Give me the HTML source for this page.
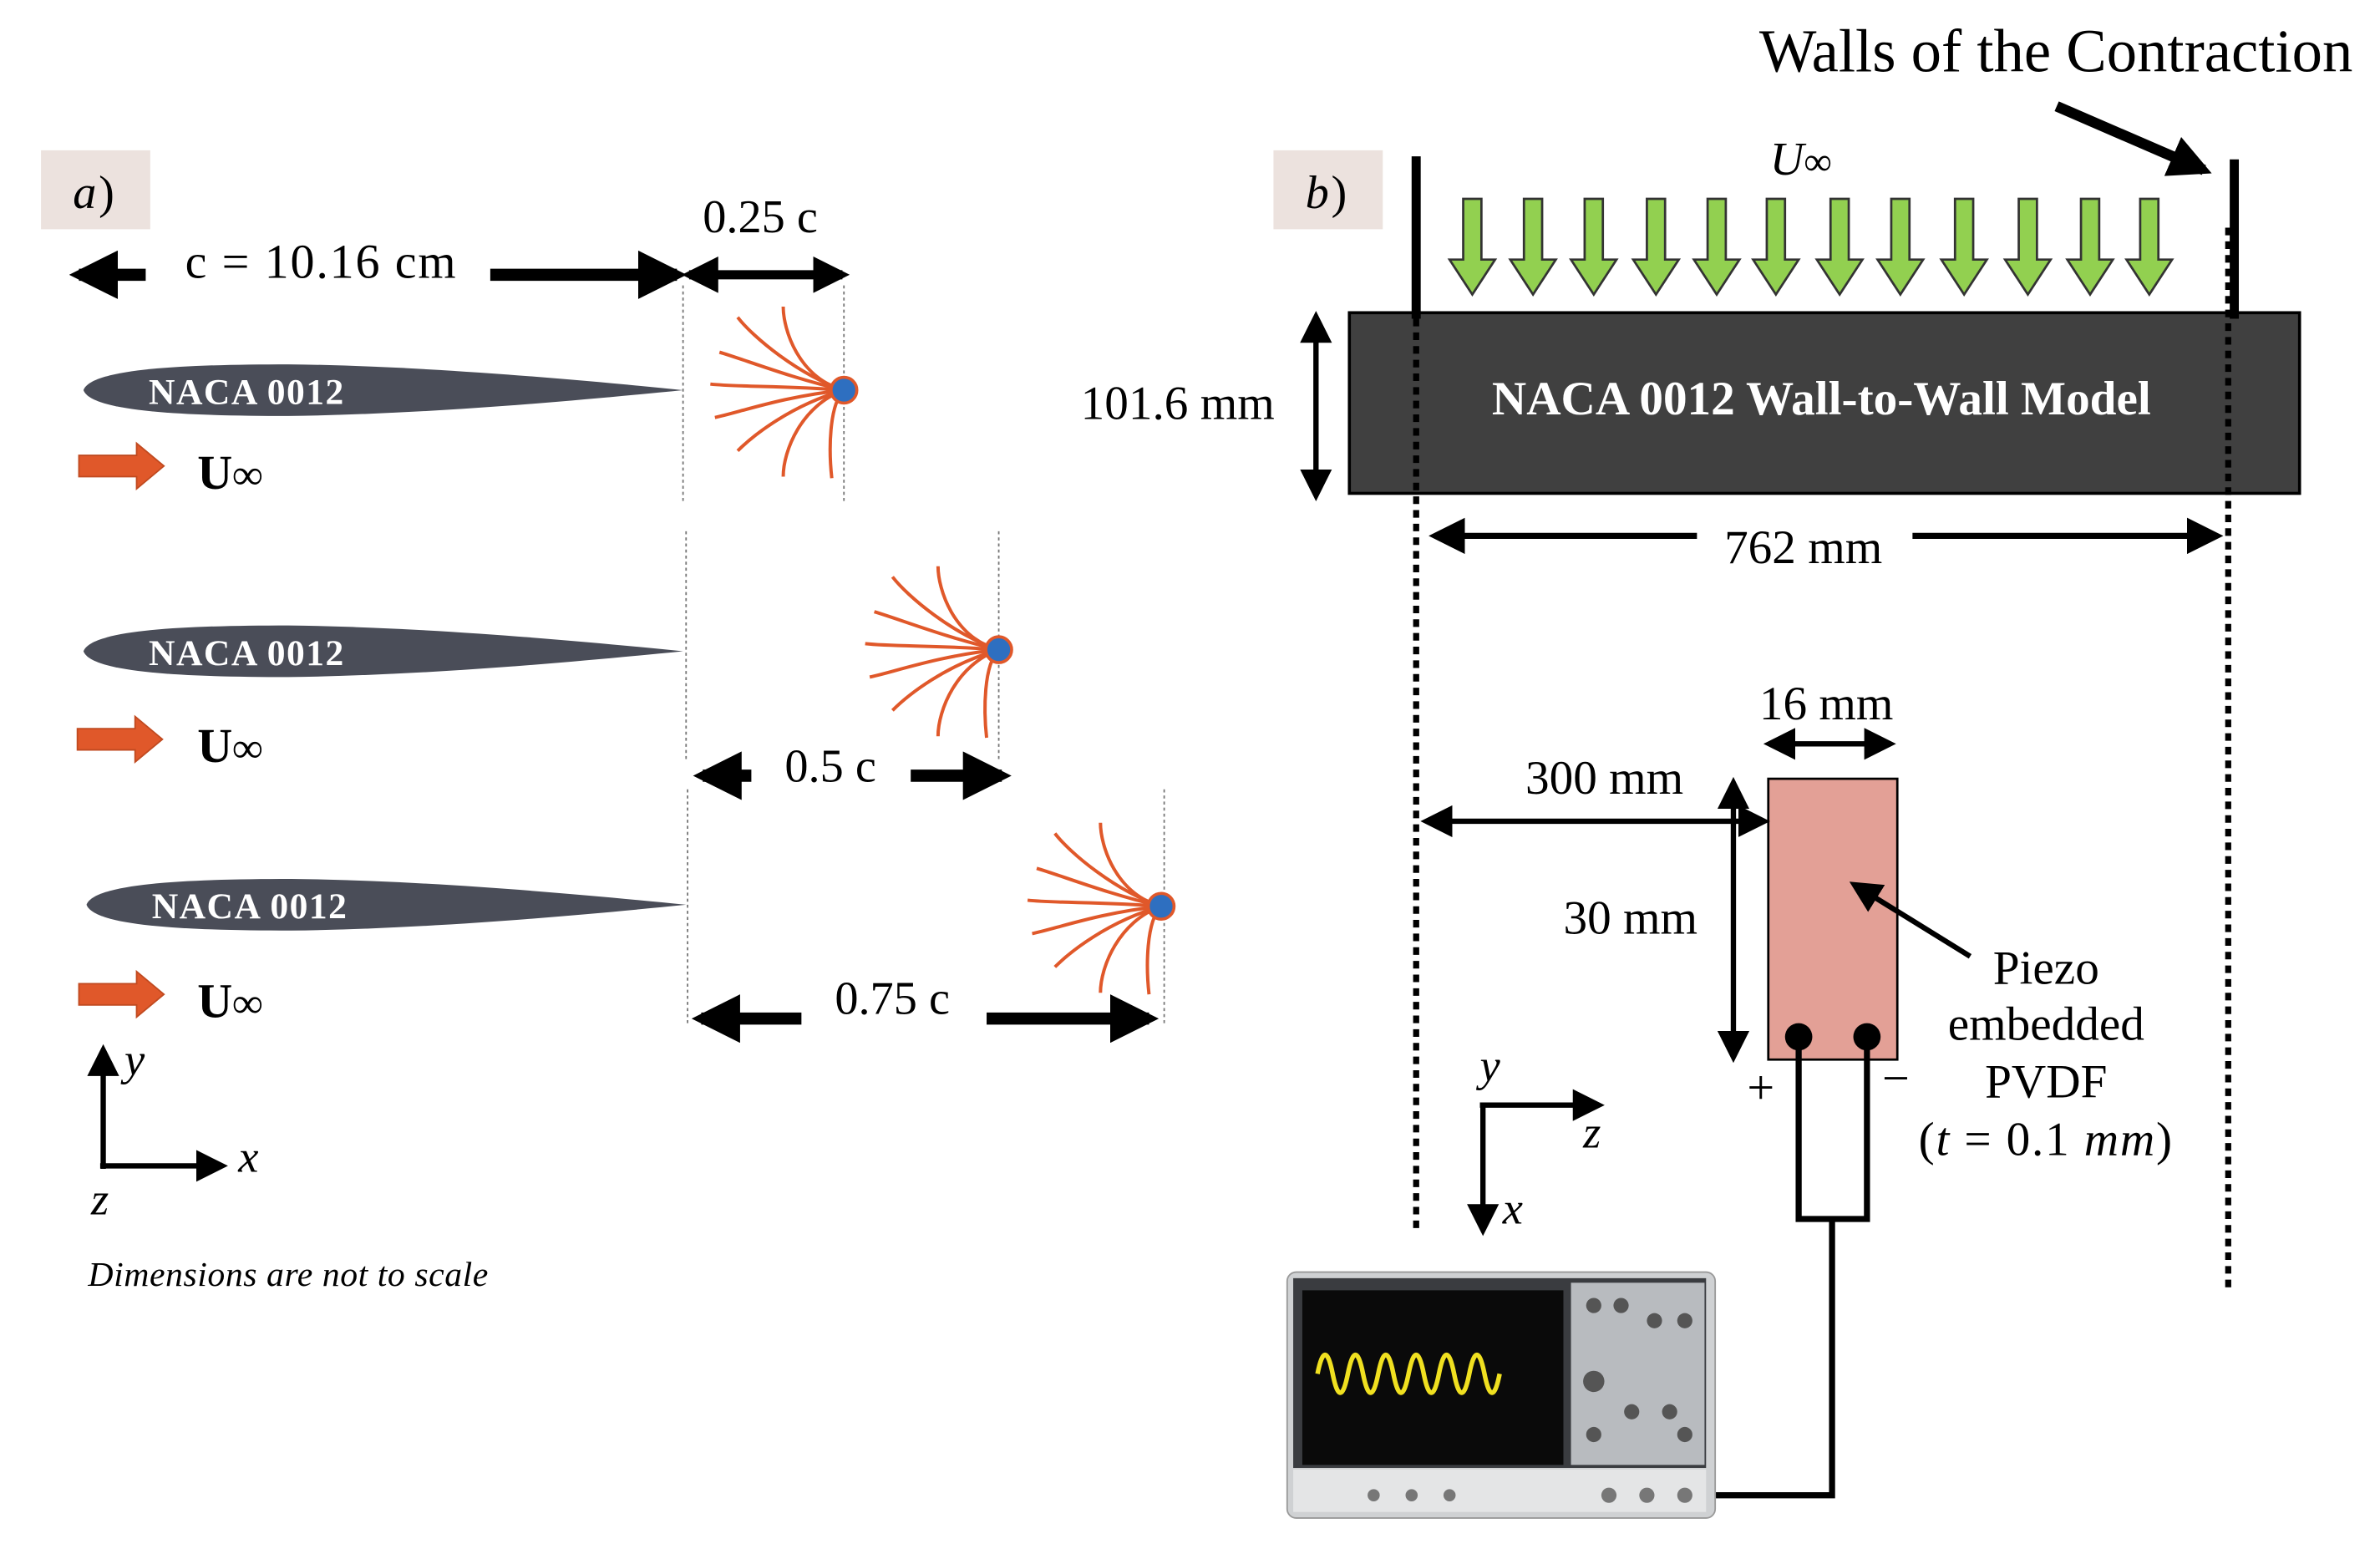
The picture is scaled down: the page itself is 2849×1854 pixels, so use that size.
<!DOCTYPE html>
<html><head><meta charset="utf-8"><style>
html,body{margin:0;padding:0;background:#fff;}
svg{display:block;}
text{font-family:"Liberation Serif",serif;}
</style></head><body>
<svg width="2849" height="1854" viewBox="0 0 1568 1020.4" preserveAspectRatio="none" xmlns="http://www.w3.org/2000/svg">
<defs>
<marker id="ah" viewBox="0 0 10 10" refX="8" refY="5" markerWidth="4" markerHeight="4" orient="auto-start-reverse"><path d="M0,0 L10,5 L0,10 z" fill="#000"/></marker>
<marker id="as" viewBox="0 0 10 10" refX="8" refY="5" markerWidth="6" markerHeight="6" orient="auto-start-reverse"><path d="M0,0 L10,5 L0,10 z" fill="#000"/></marker>
<g id="foil"><path d="M55,0 C60,-14 120,-17 190,-17 C280,-16 380,-7 450,0 C380,7 280,16 190,17 C120,17 60,14 55,0 z" fill="#4a4d58"/></g>
<g id="fan" fill="none" stroke="#e0582a" stroke-width="2.2">
<path d="M0,0 C-30,-8 -40,-40 -40,-55"/><path d="M0,0 C-30,-10 -60,-35 -70,-48"/><path d="M0,0 C-35,-8 -65,-20 -82,-25"/><path d="M0,0 C-40,-3 -70,-2 -88,-4"/><path d="M0,0 C-40,4 -70,15 -85,18"/><path d="M0,0 C-35,10 -60,30 -70,40"/><path d="M0,0 C-28,10 -40,40 -40,57"/><path d="M0,0 C-10,10 -10,40 -8,58"/>
<circle r="8.5" fill="#2e6fc0" stroke="#e0582a" stroke-width="2"/></g>
<g id="oar"><path d="M0,-7 L38,-7 L38,-15 L56,0 L38,15 L38,7 L0,7 z" fill="#e0582a" stroke="#c04a20" stroke-width="1"/></g>
<g id="gar"><path d="M-6,0 L6,0 L6,40 L15,40 L0,63 L-15,40 L-6,40 z" fill="#92d050" stroke="#333" stroke-width="1.5"/></g>
</defs>

<!-- Panel a -->
<rect x="27" y="99" width="72" height="52" fill="#ece2de"/>
<text x="48" y="137" font-size="31" font-style="italic">a</text><text x="65" y="137" font-size="31">)</text>
<line x1="96" y1="181" x2="52" y2="181" stroke="#000" stroke-width="8" marker-end="url(#ah)"/>
<text x="122" y="183" font-size="32" letter-spacing="1">c = 10.16 cm</text>
<line x1="323" y1="181" x2="446" y2="181" stroke="#000" stroke-width="8" marker-end="url(#ah)"/>
<line x1="454" y1="181" x2="555" y2="181" stroke="#000" stroke-width="6" marker-start="url(#ah)" marker-end="url(#ah)"/>
<text x="463" y="153" font-size="31">0.25 c</text>

<g stroke="#777" stroke-width="1" stroke-dasharray="2 2">
<line x1="450" y1="188" x2="450" y2="330"/><line x1="556" y1="188" x2="556" y2="332"/>
<line x1="452" y1="350" x2="452" y2="500"/><line x1="658" y1="350" x2="658" y2="500"/>
<line x1="453" y1="520" x2="453" y2="675"/><line x1="767" y1="520" x2="767" y2="675"/>
</g>

<use href="#foil" y="257"/>
<text x="98" y="266" font-size="24" font-weight="bold" fill="#fff" letter-spacing="0.8">NACA 0012</text>
<use href="#fan" x="556" y="257"/>
<use href="#oar" x="52" y="307"/>
<text x="130" y="322" font-size="32" font-weight="bold">U<tspan font-size="28">∞</tspan></text>

<use href="#foil" y="429"/>
<text x="98" y="438" font-size="24" font-weight="bold" fill="#fff" letter-spacing="0.8">NACA 0012</text>
<use href="#fan" x="658" y="428"/>
<use href="#oar" x="51" y="487"/>
<text x="130" y="502" font-size="32" font-weight="bold">U<tspan font-size="28">∞</tspan></text>
<line x1="495" y1="511" x2="463" y2="511" stroke="#000" stroke-width="8" marker-end="url(#ah)"/>
<text x="517" y="515" font-size="31">0.5 c</text>
<line x1="600" y1="511" x2="660" y2="511" stroke="#000" stroke-width="8" marker-end="url(#ah)"/>

<use href="#foil" x="2" y="596"/>
<text x="100" y="605" font-size="24" font-weight="bold" fill="#fff" letter-spacing="0.8">NACA 0012</text>
<use href="#fan" x="765" y="597"/>
<use href="#oar" x="52" y="655"/>
<text x="130" y="670" font-size="32" font-weight="bold">U<tspan font-size="28">∞</tspan></text>
<line x1="528" y1="671" x2="462" y2="671" stroke="#000" stroke-width="8" marker-end="url(#ah)"/>
<text x="550" y="668" font-size="31">0.75 c</text>
<line x1="650" y1="671" x2="757" y2="671" stroke="#000" stroke-width="8" marker-end="url(#ah)"/>

<line x1="68" y1="770" x2="68" y2="692" stroke="#000" stroke-width="3.5" marker-end="url(#as)"/>
<line x1="66" y1="768" x2="146" y2="768" stroke="#000" stroke-width="3.5" marker-end="url(#as)"/>
<text x="82" y="708" font-size="30" font-style="italic">y</text>
<text x="157" y="772" font-size="30" font-style="italic">x</text>
<text x="60" y="800" font-size="30" font-style="italic">z</text>
<text x="58" y="847" font-size="23" font-style="italic" letter-spacing="0.3">Dimensions are not to scale</text>

<!-- Panel b -->
<rect x="839" y="99" width="72" height="52" fill="#ece2de"/>
<text x="860" y="137" font-size="31" font-style="italic">b</text><text x="877" y="137" font-size="31">)</text>
<text x="1159" y="47" font-size="40">Walls of the Contraction</text>
<line x1="1355" y1="70" x2="1452" y2="112" stroke="#000" stroke-width="7" marker-end="url(#ah)"/>
<text x="1166" y="115" font-size="31" font-style="italic">U<tspan font-size="26" font-style="normal">∞</tspan></text>
<use href="#gar" x="970" y="131"/><use href="#gar" x="1010" y="131"/><use href="#gar" x="1050" y="131"/><use href="#gar" x="1091" y="131"/><use href="#gar" x="1131" y="131"/><use href="#gar" x="1170" y="131"/><use href="#gar" x="1212" y="131"/><use href="#gar" x="1252" y="131"/><use href="#gar" x="1294" y="131"/><use href="#gar" x="1336" y="131"/><use href="#gar" x="1377" y="131"/><use href="#gar" x="1416" y="131"/>
<rect x="889" y="206" width="626" height="119" fill="#404040" stroke="#000" stroke-width="2"/>
<text x="1200" y="273" font-size="31.5" font-weight="bold" fill="#fff" text-anchor="middle">NACA 0012 Wall-to-Wall Model</text>
<line x1="933" y1="103" x2="933" y2="210" stroke="#000" stroke-width="6"/>
<line x1="1472" y1="105" x2="1472" y2="210" stroke="#000" stroke-width="6"/>
<line x1="867" y1="209" x2="867" y2="326" stroke="#000" stroke-width="3.5" marker-start="url(#as)" marker-end="url(#as)"/>
<text x="712" y="276" font-size="31.5">101.6 mm</text>
<g stroke="#000" stroke-width="4" stroke-dasharray="5 4">
<line x1="933" y1="210" x2="933" y2="812"/><line x1="1468" y1="150" x2="1468" y2="848"/>
</g>
<line x1="1118" y1="353" x2="946" y2="353" stroke="#000" stroke-width="4" marker-end="url(#as)"/>
<text x="1136" y="371" font-size="31.5">762 mm</text>
<line x1="1260" y1="353" x2="1460" y2="353" stroke="#000" stroke-width="4" marker-end="url(#as)"/>

<rect x="1165" y="513" width="85" height="185" fill="#e3a096" stroke="#000" stroke-width="1.5"/>
<text x="1159" y="474" font-size="31.5">16 mm</text>
<line x1="1166" y1="490" x2="1245" y2="490" stroke="#000" stroke-width="3.5" marker-start="url(#as)" marker-end="url(#as)"/>
<text x="1005" y="523" font-size="31.5">300 mm</text>
<line x1="940" y1="541" x2="1162" y2="541" stroke="#000" stroke-width="3.5" marker-start="url(#as)" marker-end="url(#as)"/>
<line x1="1142" y1="516" x2="1142" y2="696" stroke="#000" stroke-width="3.5" marker-start="url(#as)" marker-end="url(#as)"/>
<text x="1030" y="615" font-size="31.5">30 mm</text>
<line x1="1298" y1="630" x2="1222" y2="583" stroke="#000" stroke-width="3.5" marker-end="url(#as)"/>
<g font-size="31.5" text-anchor="middle">
<text x="1348" y="648">Piezo</text><text x="1348" y="685">embedded</text><text x="1348" y="723">PVDF</text>
<text x="1348" y="761" letter-spacing="1">(<tspan font-style="italic">t</tspan> = 0.1 <tspan font-style="italic">mm</tspan>)</text></g>
<path d="M1185,683 V803 H1230 V683" fill="none" stroke="#000" stroke-width="4"/>
<path d="M1207,803 V985 H1030" fill="none" stroke="#000" stroke-width="4"/>
<circle cx="1185" cy="683" r="9" fill="#000"/><circle cx="1230" cy="683" r="9" fill="#000"/>
<text x="1151" y="727" font-size="32">+</text><text x="1240" y="721" font-size="32">−</text>
<line x1="977" y1="810" x2="977" y2="728" stroke="#000" stroke-width="3.5" marker-end="url(#as)" transform="rotate(180 977 769)"/>
<line x1="975" y1="728" x2="1053" y2="728" stroke="#000" stroke-width="3.5" marker-end="url(#as)"/>
<text x="975" y="712" font-size="30" font-style="italic">y</text>
<text x="1043" y="756" font-size="30" font-style="italic">z</text>
<text x="990" y="806" font-size="30" font-style="italic">x</text>

<!-- oscilloscope -->
<rect x="848" y="838" width="282" height="162" rx="6" fill="#cfd1d3" stroke="#999"/>
<rect x="852" y="842" width="272" height="125" fill="#3a3c40"/>
<rect x="858" y="850" width="172" height="115" fill="#0a0a0a"/>
<path d="M868,905 q5,-25 10,0 t10,0 t10,0 t10,0 t10,0 t10,0 t10,0 t10,0 t10,0 t10,0 t10,0 t10,0" fill="none" stroke="#f0e020" stroke-width="3"/>
<rect x="1035" y="845" width="88" height="120" fill="#b8bbbf"/>
<g fill="#555"><circle cx="1050" cy="860" r="5"/><circle cx="1068" cy="860" r="5"/><circle cx="1090" cy="870" r="5"/><circle cx="1110" cy="870" r="5"/><circle cx="1050" cy="910" r="7"/><circle cx="1075" cy="930" r="5"/><circle cx="1100" cy="930" r="5"/><circle cx="1050" cy="945" r="5"/><circle cx="1110" cy="945" r="5"/></g>
<rect x="852" y="968" width="272" height="28" fill="#e4e5e6"/>
<g fill="#777"><circle cx="905" cy="985" r="4"/><circle cx="930" cy="985" r="4"/><circle cx="955" cy="985" r="4"/><circle cx="1060" cy="985" r="5"/><circle cx="1085" cy="985" r="5"/><circle cx="1110" cy="985" r="5"/></g>
</svg>
</body></html>
